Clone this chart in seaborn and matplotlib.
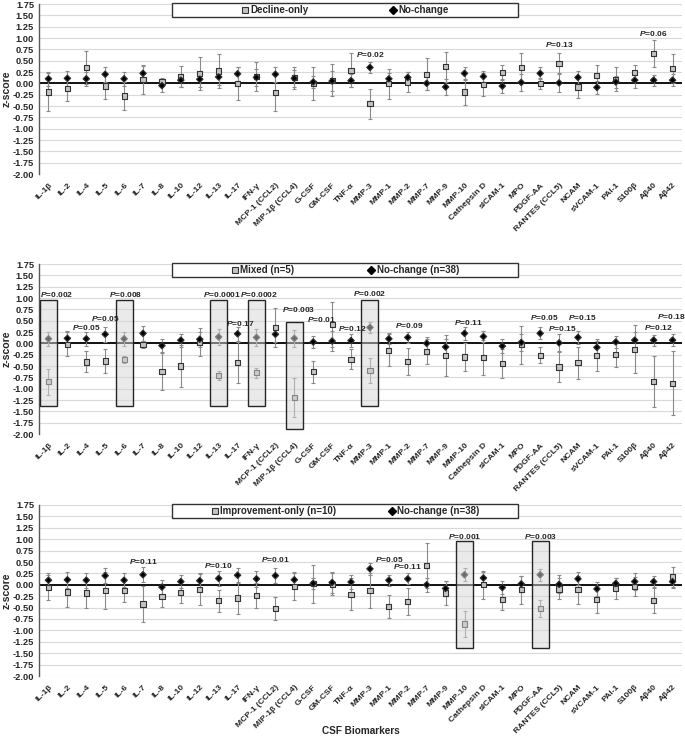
import numpy as np
import pandas as pd
import matplotlib
matplotlib.use("Agg")
import matplotlib.pyplot as plt
import seaborn as sns
from matplotlib.patches import Rectangle
from matplotlib.lines import Line2D

# CSF biomarkers on the x axis
biomarkers = ["IL-1β", "IL-2", "IL-4", "IL-5", "IL-6", "IL-7", "IL-8", "IL-10", "IL-12",
              "IL-13", "IL-17", "IFN-γ", "MCP-1 (CCL2)", "MIP-1β (CCL4)", "G-CSF", "GM-CSF",
              "TNF-α", "MMP-3", "MMP-1", "MMP-2", "MMP-7", "MMP-9", "MMP-10", "Cathepsin D",
              "sICAM-1", "MPO", "PDGF-AA", "RANTES (CCL5)", "NCAM", "sVCAM-1", "PAI-1",
              "S100β", "Aβ40", "Aβ42"]

# No-change group (same in every panel)
nochange = [0.10, 0.11, 0.10, 0.20, 0.10, 0.22, -0.05, 0.07, 0.09, 0.14, 0.21, 0.13, 0.20, 0.11,
            0.03, 0.05, 0.06, 0.35, 0.10, 0.13, 0.00, -0.08, 0.22, 0.15, -0.06, 0.02, 0.22, 0.01,
            0.13, -0.09, 0.03, 0.07, 0.07, 0.07]
nochange_err = [0.15, 0.17, 0.16, 0.16, 0.15, 0.16, 0.15, 0.14, 0.17, 0.17, 0.15, 0.18, 0.16, 0.18,
                0.13, 0.23, 0.15, 0.13, 0.12, 0.12, 0.15, 0.17, 0.14, 0.13, 0.15, 0.18, 0.13, 0.20,
                0.14, 0.15, 0.13, 0.18, 0.12, 0.13]

# Decline-only
decline = [-0.19, -0.12, 0.35, -0.06, -0.28, 0.09, 0.04, 0.15, 0.21, 0.27, 0.00, 0.15, -0.20, 0.12,
           -0.01, 0.07, 0.29, -0.45, -0.01, 0.03, 0.20, 0.37, -0.19, -0.02, 0.24, 0.35, 0.00, 0.44,
           -0.08, 0.18, 0.09, 0.24, 0.66, 0.32]
decline_err = [0.41, 0.26, 0.36, 0.28, 0.30, 0.32, 0.08, 0.24, 0.36, 0.38, 0.36, 0.33, 0.42, 0.25,
               0.36, 0.36, 0.38, 0.33, 0.33, 0.22, 0.35, 0.33, 0.28, 0.25, 0.17, 0.33, 0.12, 0.22,
               0.24, 0.22, 0.27, 0.17, 0.30, 0.32]

# Mixed (n=5)
mixed = [-0.85, -0.02, -0.41, -0.39, -0.35, -0.03, -0.62, -0.50, 0.02, -0.71, -0.43, -0.65, 0.35,
         -1.19, -0.63, 0.41, -0.35, -0.60, -0.15, -0.40, -0.18, -0.26, -0.30, -0.31, -0.45, -0.03,
         -0.26, -0.52, -0.43, -0.26, -0.24, -0.13, -0.84, -0.88]
mixed_err = [0.28, 0.27, 0.23, 0.27, 0.08, 0.08, 0.40, 0.47, 0.31, 0.10, 0.45, 0.11, 0.42, 0.43,
             0.25, 0.50, 0.22, 0.27, 0.35, 0.30, 0.28, 0.45, 0.30, 0.38, 0.32, 0.42, 0.18, 0.34,
             0.36, 0.35, 0.28, 0.53, 0.57, 0.70]

# Improvement-only (n=10)
improve = [-0.06, -0.16, -0.18, -0.12, -0.13, -0.42, -0.26, -0.17, -0.11, -0.35, -0.29, -0.23,
           -0.52, -0.04, 0.02, 0.01, -0.21, -0.13, -0.47, -0.37, 0.42, -0.18, -0.86, 0.00, -0.32,
           -0.11, -0.52, -0.09, -0.11, -0.32, -0.08, -0.04, -0.34, 0.17]
improve_err = [0.28, 0.32, 0.33, 0.40, 0.25, 0.39, 0.23, 0.24, 0.34, 0.24, 0.34, 0.28, 0.25, 0.30,
               0.41, 0.24, 0.35, 0.38, 0.25, 0.30, 0.49, 0.26, 0.28, 0.31, 0.24, 0.31, 0.19, 0.23,
               0.31, 0.30, 0.23, 0.21, 0.27, 0.21]

# P-value labels: (biomarker, text)
decline_p = [("MMP-3", "0.02"), ("RANTES (CCL5)", "0.13"), ("Aβ40", "0.06")]
mixed_p = [("IL-1β", "0.002"), ("IL-4", "0.05"), ("IL-5", "0.05"), ("IL-6", "0.008"),
           ("IL-13", "0.0001"), ("IL-17", "0.17"), ("IFN-γ", "0.0002"), ("MIP-1β (CCL4)", "0.003"),
           ("G-CSF", "0.01"), ("TNF-α", "0.12"), ("MMP-3", "0.002"), ("MMP-2", "0.09"),
           ("MMP-10", "0.11"), ("PDGF-AA", "0.05"), ("RANTES (CCL5)", "0.15"), ("NCAM", "0.15"),
           ("Aβ40", "0.12"), ("Aβ42", "0.18")]
improve_p = [("IL-7", "0.11"), ("IL-13", "0.10"), ("MCP-1 (CCL2)", "0.01"), ("MMP-1", "0.05"),
             ("MMP-2", "0.11"), ("MMP-10", "0.001"), ("PDGF-AA", "0.003")]

# significant markers highlighted with a box
mixed_boxed = ["IL-1β", "IL-6", "IL-13", "IFN-γ", "MIP-1β (CCL4)", "MMP-3"]
improve_boxed = ["MMP-10", "PDGF-AA"]

# layout: label y (and x shift) for each p label, box extents
p_pos = {
    0: [(0.64, 0), (0.86, 0), (1.10, 0)],
    1: [(1.08, 0.45), (0.35, 0), (0.55, 0), (1.08, 0.1), (1.08, 0.15), (0.44, 0.15), (1.08, 0.15),
        (0.74, 0.2), (0.53, 0.45), (0.33, 0.05), (1.10, 0), (0.40, 0.1), (0.47, 0.2),
        (0.57, 0.2), (0.33, 0.15), (0.57, 0.2), (0.35, 0.25), (0.60, -0.05)],
    2: [(0.52, 0), (0.42, 0), (0.56, 0), (0.56, 0), (0.40, 0), (1.06, 0), (1.06, 0)],
}
box_span = {"MIP-1β (CCL4)": (0.46, -1.90)}
box_default = (0.96, -1.38)

sns.set_theme(style="white")
plt.rcParams['font.family'] = ['Liberation Sans', 'DejaVu Sans']
plt.rcParams['font.weight'] = 'bold'
plt.rcParams['mathtext.fontset'] = 'custom'
plt.rcParams['mathtext.it'] = 'Liberation Sans:italic:bold'
plt.rcParams['mathtext.rm'] = 'Liberation Sans:bold'

SQ_FILL = "#c3c3c3"
ERR = "#8a8a8a"
FS_Y = 6.7
FS_X = 6.1

fig = plt.figure(figsize=(6.85, 7.36), dpi=100)
left, width = 39 / 685, 643 / 685
panel_px = [(4, 174), (264, 434), (505, 676)]

panels = [
    ("Decline-only", "No-change", decline, decline_err, decline_p, [], 8.3),
    ("Mixed (n=5)", "No-change (n=38)", mixed, mixed_err, mixed_p, mixed_boxed, 7.5),
    ("Improvement-only (n=10)", "No-change (n=38)", improve, improve_err, improve_p, improve_boxed, 5.3),
]

n = len(biomarkers)
xpos = np.arange(n)

for k, (glab, nclab, vals, errs, plist, boxed, colsp) in enumerate(panels):
    top_px, bot_px = panel_px[k]
    ax = fig.add_axes([left, 1 - bot_px / 736, width, (bot_px - top_px) / 736])

    df = pd.DataFrame({
        "marker": biomarkers + biomarkers,
        "z": list(vals) + nochange,
        "group": [glab] * n + [nclab] * n,
    })

    ax.errorbar(xpos, vals, yerr=errs, fmt="none", ecolor=ERR, elinewidth=0.8,
                capsize=1.6, capthick=0.8, zorder=2)
    ax.errorbar(xpos, nochange, yerr=nochange_err, fmt="none", ecolor=ERR, elinewidth=0.8,
                capsize=1.6, capthick=0.8, zorder=2)
    sns.scatterplot(data=df, x="marker", y="z", hue="group", style="group",
                    markers={glab: "s", nclab: "D"},
                    palette={glab: SQ_FILL, nclab: "black"},
                    size="group", sizes={glab: 14, nclab: 11},
                    edgecolor="#333333", linewidth=0.8, legend=False, ax=ax, zorder=3)

    ax.axhline(0, color="black", lw=1.3, zorder=1.5)
    ax.set_xlim(-0.5, n - 0.5)
    ax.set_ylim(-2.0, 1.75)
    yt = np.arange(-2.0, 1.76, 0.25)
    ax.set_yticks(yt)
    ax.set_yticklabels([f"{v:.2f}" for v in yt], fontsize=FS_Y, fontweight="bold")
    ax.grid(axis="y", color="#d9d9d9", lw=0.8)
    ax.set_axisbelow(True)
    ax.set_xticks(xpos)
    ax.set_xticklabels(biomarkers, rotation=45, ha="right", rotation_mode="anchor",
                       fontsize=FS_X, fontweight="bold")
    ax.tick_params(axis="x", length=0, pad=5.5)
    ax.tick_params(axis="y", length=0, pad=3.5)
    for side in ["top", "right", "bottom"]:
        ax.spines[side].set_visible(False)
    ax.spines["left"].set_color("#595959")
    ax.spines["left"].set_linewidth(1.0)
    ax.set_ylabel("z-score", fontsize=7.6, fontweight="bold", labelpad=1)
    ax.set_xlabel("")

    # highlight boxes
    for name in boxed:
        i = biomarkers.index(name)
        top, bot = box_span.get(name, box_default)
        ax.add_patch(Rectangle((i - 0.45, bot), 0.9, top - bot, facecolor=(0.84, 0.84, 0.84, 0.5),
                               edgecolor="#262626", lw=1.0, zorder=4))

    # p-value labels
    for (name, ptxt), (ty, dx) in zip(plist, p_pos[k]):
        i = biomarkers.index(name)
        ax.text(i + dx, ty, r"$P$=" + ptxt, ha="center", va="center", fontsize=6.0,
                fontweight="bold", zorder=5)

    # legend with a wide frame
    ax.add_patch(Rectangle((0.207, 0.924), 0.538, 0.082, transform=ax.transAxes,
                           facecolor="white", edgecolor="#333333", lw=1.0, clip_on=False, zorder=6))
    handles = [Line2D([], [], ls="", marker="s", ms=4.8, mfc=SQ_FILL, mec="#333333", mew=0.8),
               Line2D([], [], ls="", marker="D", ms=3.6, mfc="black", mec="black")]
    leg = ax.legend(handles, [glab, nclab], ncol=2, loc="center", bbox_to_anchor=(0.476, 0.965),
                    frameon=False, fontsize=7.0, handlelength=0.8, handletextpad=0.15,
                    columnspacing=colsp, borderpad=0)
    leg.set_zorder(7)
    for t in leg.get_texts():
        t.set_fontweight("bold")

    if k == 2:
        ax.text(0.5, -0.29, "CSF Biomarkers", transform=ax.transAxes, ha="center", va="top",
                fontsize=7.2, fontweight="bold")

fig.savefig("out.png", dpi=100)
